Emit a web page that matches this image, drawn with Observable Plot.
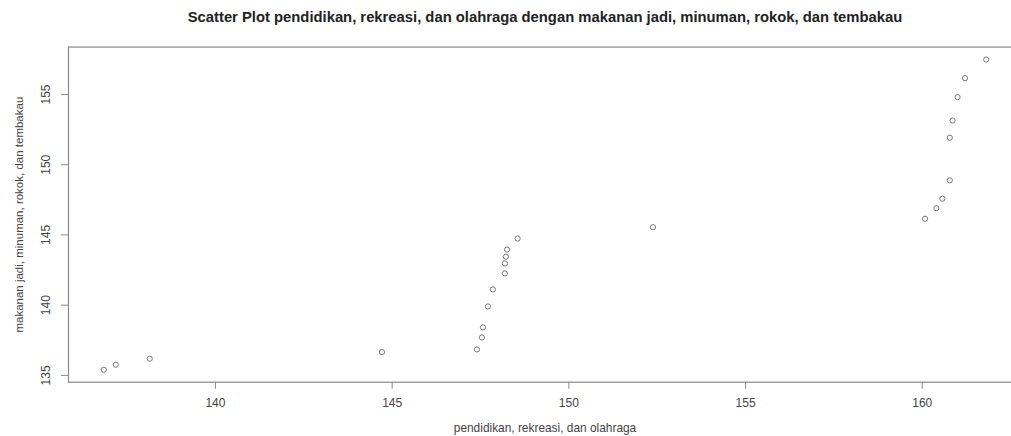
<!DOCTYPE html>
<html>
<head>
<meta charset="utf-8">
<script src="https://cdn.jsdelivr.net/npm/d3@7"></script>
<script src="https://cdn.jsdelivr.net/npm/@observablehq/plot@0.6"></script>
<style>
  html, body { margin: 0; padding: 0; background: #fff; overflow: hidden; width: 1011px; height: 436px; }
  #title { box-sizing: border-box; width: 1011px; height: 36px; padding-left: 79px; text-align: center;
    font: bold 14.8px "Liberation Sans", Arial, sans-serif; color: #222; line-height: 34px; }
  #chart svg { overflow: visible; }
</style>
</head>
<body>
<div id="title">Scatter Plot pendidikan, rekreasi, dan olahraga dengan makanan jadi, minuman, rokok, dan tembakau</div>
<div id="chart"></div>
<script>
const titleText = "Scatter Plot pendidikan, rekreasi, dan olahraga dengan makanan jadi, minuman, rokok, dan tembakau";
const xLabel = "pendidikan, rekreasi, dan olahraga";
const yLabel = "makanan jadi, minuman, rokok, dan tembakau";

// pendidikan, rekreasi, dan olahraga
const xValues = [136.84, 137.18, 138.14, 144.71, 147.40, 147.54, 147.57, 147.71, 147.85,
  148.19, 148.19, 148.22, 148.25, 148.55, 152.38,
  160.08, 160.40, 160.57, 160.78, 160.78, 160.86, 161.00, 161.21, 161.81];
// makanan jadi, minuman, rokok, dan tembakau
const yValues = [135.40, 135.76, 136.19, 136.66, 136.85, 137.70, 138.42, 139.91, 141.12,
  142.26, 142.97, 143.45, 143.96, 144.75, 145.55,
  146.15, 146.91, 147.58, 148.89, 151.92, 153.15, 154.81, 156.16, 157.49];

const xTicks = [140, 145, 150, 155, 160];
const yTicks = [135, 140, 145, 150, 155];

const data = xValues.map((x, i) => ({x, y: yValues[i]}));

function rDomain(vals) {
  const [a, b] = d3.extent(vals);
  const p = (b - a) * 0.04;
  return [a - p, b + p];
}

const font = '"Liberation Sans", Arial, sans-serif';
const textColor = "#444";
const axisColor = "#8a8a8a";

const plot = Plot.plot({
  width: 1011,
  height: 400,
  marginLeft: 68,
  marginRight: -10,
  marginTop: 10.6,
  marginBottom: 54.3,
  style: {fontFamily: font, fontSize: "12px", color: textColor, background: "transparent", overflow: "visible"},
  x: {domain: rDomain(xValues)},
  y: {domain: rDomain(yValues)},
  marks: [
    Plot.frame({stroke: axisColor, strokeWidth: 1.2}),
    Plot.axisX({ticks: xTicks, tickSize: 7, tickPadding: 9, tickFormat: d => String(d), label: null,
      stroke: axisColor, fill: textColor, fontSize: 12}),
    Plot.axisY({ticks: yTicks, tickSize: 7, tickFormat: () => "", label: null, stroke: axisColor}),
    Plot.text(yTicks, {y: d => d, text: d => String(d), frameAnchor: "left", dx: -22, rotate: -90,
      textAnchor: "middle", lineAnchor: "middle", fill: textColor, fontSize: 12}),
    Plot.text([xLabel], {text: d => d, frameAnchor: "bottom", dy: 46, lineAnchor: "middle",
      fill: textColor, fontSize: 11.9}),
    Plot.text([yLabel], {text: d => d, frameAnchor: "left", dx: -49, rotate: -90,
      textAnchor: "middle", lineAnchor: "middle", fill: textColor, fontSize: 11.5}),
    Plot.dot(data, {x: "x", y: "y", r: 2.6, stroke: "#777", strokeWidth: 1, fill: "none"})
  ]
});
document.getElementById("chart").appendChild(plot);
</script>
</body>
</html>
